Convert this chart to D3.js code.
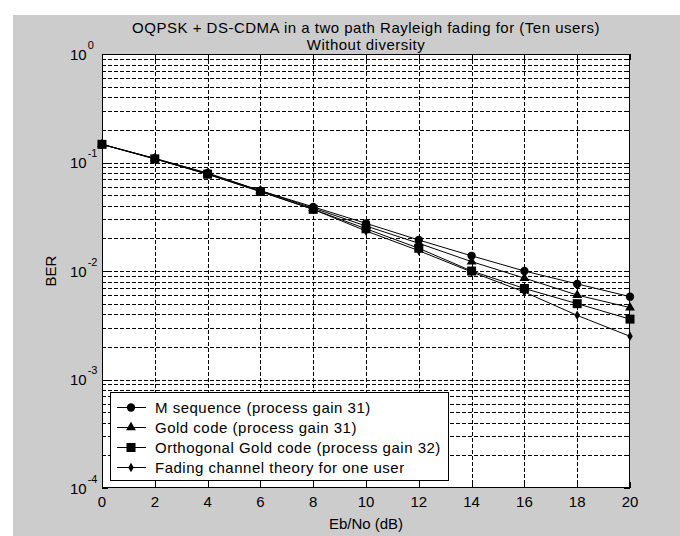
<!DOCTYPE html>
<html>
<head>
	<meta charset="utf-8">
	<title>OQPSK + DS-CDMA BER</title>
	<script src="https://cdn.jsdelivr.net/npm/d3@7"></script>
	<style type="text/css">
		html, body {
			margin: 0;
			padding: 0;
			background: #fff;
		}
		text {
			font-family: "Liberation Sans", Arial, sans-serif;
			font-size: 15px;
			fill: #000;
		}
		text.wide {
			letter-spacing: 0.5px;
		}
		.grid line {
			stroke: #000;
			stroke-width: 1px;
			stroke-dasharray: 4,2;
		}
	</style>
</head>
<body>
	<div id="graph"></div>
	<script type="text/javascript">
		// Eb/No (dB)
		var ebno = [0, 2, 4, 6, 8, 10, 12, 14, 16, 18, 20];
		// BER per series
		var mSeq     = [0.147, 0.109, 0.080, 0.055, 0.039, 0.0275, 0.0193, 0.0138, 0.0100, 0.0076, 0.0058];
		var gold     = [0.147, 0.109, 0.079, 0.055, 0.038, 0.0260, 0.0180, 0.0122, 0.0086, 0.0060, 0.0046];
		var orthGold = [0.147, 0.108, 0.078, 0.054, 0.037, 0.0245, 0.0162, 0.0100, 0.0069, 0.0050, 0.0036];
		var theory   = [0.147, 0.108, 0.078, 0.054, 0.037, 0.0234, 0.0154, 0.0098, 0.0064, 0.0039, 0.0025];
		var names = ['M sequence (process gain 31)', 'Gold code (process gain 31)',
			'Orthogonal Gold code (process gain 32)', 'Fading channel theory for one user'];
		var xTicks = [0, 2, 4, 6, 8, 10, 12, 14, 16, 18, 20];
		var yDecades = [0, -1, -2, -3, -4];

		var series = [
			{name: names[0], v: mSeq, sym: d3.symbolCircle, size: 55},
			{name: names[1], v: gold, sym: d3.symbolTriangle, size: 42},
			{name: names[2], v: orthGold, sym: d3.symbolSquare, size: 81},
			{name: names[3], v: theory, sym: d3.symbolDiamond, size: 26}
		];

		var W = 680, H = 536;
		var L = 102, T = 54, R = 630, B = 488;

		var x = d3.scaleLinear().domain([0, 20]).range([L, R]);
		var y = d3.scaleLog().domain([1e-4, 1]).range([B, T]);
		function px(v) { return Math.round(v) + 0.5; }

		var svg = d3.select('#graph').append('svg')
			.attr('width', W).attr('height', H);

		svg.append('rect').attr('x', 13).attr('y', 15)
			.attr('width', W - 13).attr('height', H - 15).attr('fill', '#cccccc');
		svg.append('rect').attr('x', L).attr('y', T)
			.attr('width', R - L).attr('height', B - T).attr('fill', '#fff');

		// minor log positions (2..9 in every decade) + decades
		var yGrid = [];
		for (var e = -4; e < 0; ++e) {
			for (var k = 1; k < 10; ++k) {
				if (k == 1 && e == -4) continue;
				yGrid.push(k * Math.pow(10, e));
			}
		}

		var grid = svg.append('g').attr('class', 'grid');
		grid.selectAll('line.gx')
			.data(xTicks.slice(1, -1))
			.enter().append('line')
				.attr('x1', function(d) { return px(x(d)); })
				.attr('x2', function(d) { return px(x(d)); })
				.attr('y1', T).attr('y2', B);
		grid.selectAll('line.gy')
			.data(yGrid)
			.enter().append('line')
				.attr('x1', L).attr('x2', R)
				.attr('y1', function(d) { return px(y(d)); })
				.attr('y2', function(d) { return px(y(d)); });

		// ticks inside the box
		var tk = svg.append('g').attr('stroke', '#000').attr('stroke-width', 1);
		xTicks.forEach(function(d) {
			tk.append('line').attr('x1', px(x(d))).attr('x2', px(x(d))).attr('y1', B).attr('y2', B - 6);
			tk.append('line').attr('x1', px(x(d))).attr('x2', px(x(d))).attr('y1', T).attr('y2', T + 6);
		});
		yGrid.concat([1e-4]).forEach(function(d) {
			var yy = px(y(d));
			var len = (Math.abs(Math.log10(d) - Math.round(Math.log10(d))) < 1e-9) ? 6 : 3;
			tk.append('line').attr('x1', L).attr('x2', L + len).attr('y1', yy).attr('y2', yy);
			tk.append('line').attr('x1', R).attr('x2', R - len).attr('y1', yy).attr('y2', yy);
		});

		svg.append('rect').attr('x', L + 0.5).attr('y', T + 0.5)
			.attr('width', R - L - 1).attr('height', B - T - 1)
			.attr('fill', 'none').attr('stroke', '#000');

		// x tick labels
		svg.selectAll('text.xt')
			.data(xTicks)
			.enter().append('text')
				.attr('class', 'xt')
				.attr('x', function(d) { return x(d); })
				.attr('y', B + 19)
				.attr('text-anchor', 'middle')
				.text(function(d) { return d; });

		// y tick labels 10^n
		var yl = svg.selectAll('text.yt')
			.data(yDecades)
			.enter().append('text')
				.attr('class', 'yt')
				.attr('x', 70)
				.attr('y', function(d) { return y(Math.pow(10, d)) + 5.5; });
		yl.append('tspan').text('10');
		yl.append('tspan')
			.attr('dy', -11).attr('dx', 1)
			.style('font-size', '11px')
			.text(function(d) { return d; });

		// lines and markers
		var line = d3.line()
			.x(function(d, i) { return x(ebno[i]); })
			.y(function(d) { return y(d); });

		series.forEach(function(s) {
			svg.append('path')
				.attr('d', line(s.v))
				.attr('fill', 'none')
				.attr('stroke', '#000')
				.attr('stroke-width', 1);
			svg.selectAll(null)
				.data(s.v)
				.enter().append('path')
					.attr('transform', function(d, i) { return 'translate(' + x(ebno[i]) + ',' + y(d) + ')'; })
					.attr('d', d3.symbol().type(s.sym).size(s.size))
					.attr('fill', '#000');
		});

		// legend
		var lg = svg.append('g');
		lg.append('rect').attr('x', 110.5).attr('y', 392.5)
			.attr('width', 338).attr('height', 88)
			.attr('fill', '#fff').attr('stroke', '#000');
		series.forEach(function(s, i) {
			var yy = 407 + i * 20;
			lg.append('line').attr('x1', 117).attr('x2', 146).attr('y1', yy + 0.5).attr('y2', yy + 0.5)
				.attr('stroke', '#000');
			lg.append('path')
				.attr('transform', 'translate(131,' + (yy + 0.5) + ')')
				.attr('d', d3.symbol().type(s.sym).size(s.size))
				.attr('fill', '#000');
			lg.append('text').attr('class', 'wide')
				.attr('x', 155).attr('y', yy + 5.5).text(s.name);
		});

		// titles
		svg.append('text').attr('class', 'wide')
			.attr('x', (L + R) / 2).attr('y', 33)
			.attr('text-anchor', 'middle')
			.text('OQPSK + DS-CDMA in a two path Rayleigh fading for (Ten users)');
		svg.append('text').attr('class', 'wide')
			.attr('x', (L + R) / 2).attr('y', 50)
			.attr('text-anchor', 'middle')
			.text('Without diversity');
		svg.append('text')
			.attr('x', (L + R) / 2).attr('y', 529)
			.attr('text-anchor', 'middle')
			.text('Eb/No (dB)');
		svg.append('text')
			.attr('transform', 'translate(56,' + ((T + B) / 2) + ') rotate(-90)')
			.attr('text-anchor', 'middle')
			.text('BER');
	</script>
</body>
</html>
